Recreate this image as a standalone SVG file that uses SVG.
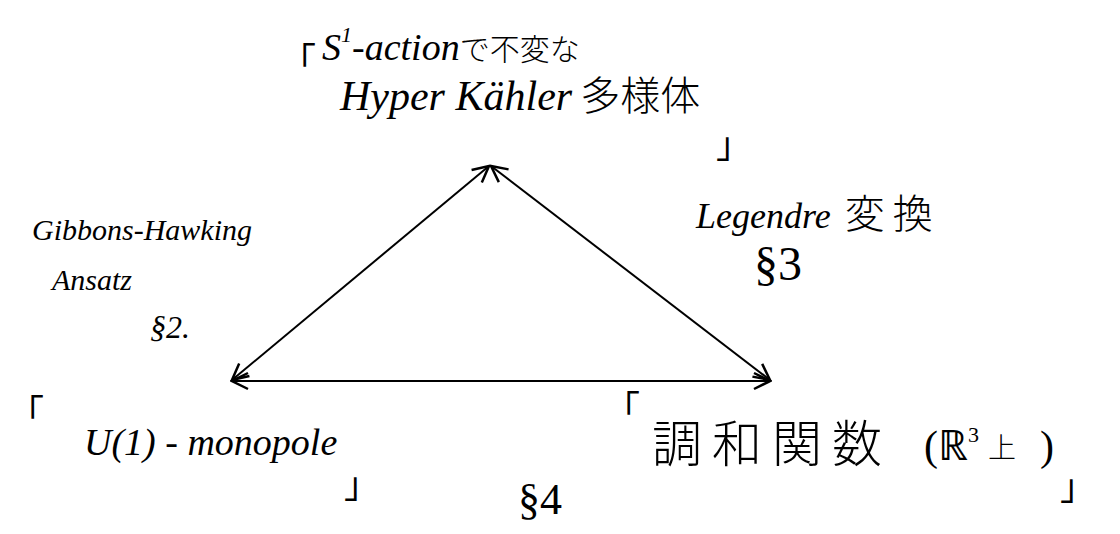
<svg xmlns="http://www.w3.org/2000/svg" width="1120" height="534" viewBox="0 0 1120 534">
<style>
  .t { font-family: "Liberation Serif", "Noto Sans CJK JP", serif; font-style: italic; fill: #000; }
  .n { font-style: normal; }
  .j { font-family: "Noto Sans CJK JP", sans-serif; font-style: normal; font-weight: 300; }
  .br { font-family: "Noto Sans CJK JP", sans-serif; font-size: 36px; fill: #000; }
  .edge { stroke: #000; stroke-width: 2; fill: none; marker-start: url(#ah); marker-end: url(#ah); }
</style>
<defs>
  <marker id="ah" viewBox="0 0 20 20" refX="18" refY="10" markerWidth="20" markerHeight="20" markerUnits="userSpaceOnUse" orient="auto-start-reverse">
    <path d="M2,2 L18,10 L2,18" fill="none" stroke="#000" stroke-width="2.5"/>
  </marker>
</defs>
<rect width="1120" height="534" fill="#fff"/>

<g id="connectors">
  <line class="edge" x1="489" y1="166" x2="232" y2="380"/>
  <line class="edge" x1="491" y1="166" x2="770" y2="380"/>
  <line class="edge" x1="232" y1="381" x2="770" y2="381"/>
</g>

<g id="node-hyperkahler">
  <text class="br" x="280" y="74">「</text>
  <text class="t" x="322" y="60" font-size="38">S<tspan font-size="22" dy="-18">1</tspan><tspan dy="18">-action</tspan><tspan class="j" font-size="30">で不変な</tspan></text>
  <text class="t" x="340" y="110" font-size="42">Hyper Kähler<tspan class="j" font-size="40" dx="8">多様体</tspan></text>
  <text class="br" x="716" y="158">」</text>
</g>

<g id="label-gibbons">
  <text class="t" x="32" y="240" font-size="30">Gibbons-Hawking</text>
  <text class="t" x="52" y="290" font-size="30">Ansatz</text>
  <text class="t" x="150" y="338" font-size="32">§2.</text>
</g>

<g id="label-legendre">
  <text class="t" x="696" y="228" font-size="36">Legendre<tspan class="j" font-size="40" dx="14" letter-spacing="8">変換</tspan></text>
  <text class="t n" x="754" y="280" font-size="48">§3</text>
</g>

<g id="node-monopole">
  <text class="br" x="8" y="426">「</text>
  <text class="t" x="84" y="455" font-size="38">U(1) - monopole</text>
  <text class="br" x="344" y="498">」</text>
</g>

<g id="node-harmonic">
  <text class="br" x="604" y="422">「</text>
  <text class="j" x="652" y="462" font-size="50" letter-spacing="10">調和関数</text>
  <text class="t n" x="924" y="460" font-size="42">(ℝ<tspan font-size="22" dy="-18">3</tspan></text>
  <text class="j" x="988" y="458" font-size="28">上</text>
  <text class="t n" x="1040" y="460" font-size="42">)</text>
  <text class="br" x="1060" y="500">」</text>
</g>

<g id="label-s4">
  <text class="t n" x="518" y="514" font-size="44">§4</text>
</g>
</svg>
